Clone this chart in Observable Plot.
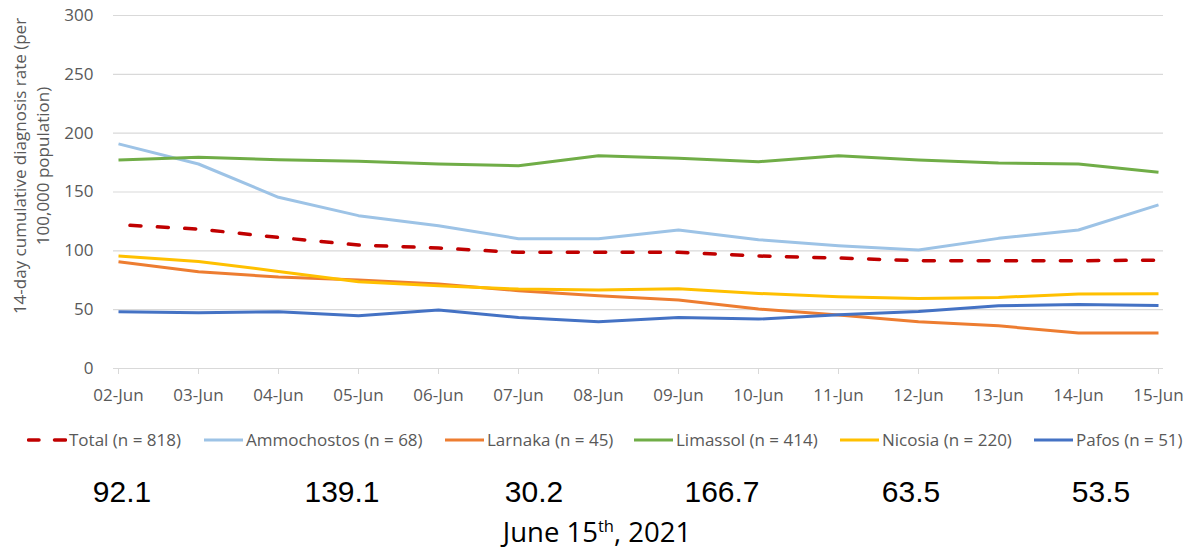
<!DOCTYPE html>
<html>
<head>
<meta charset="utf-8">
<script src="https://cdn.jsdelivr.net/npm/d3@7"></script>
<script src="https://cdn.jsdelivr.net/npm/@observablehq/plot@0.6"></script>
<style>
  body { margin: 0; background: #fff; }
  #wrap { position: relative; width: 1199px; height: 552px; overflow: hidden; font-family: "Open Sans", sans-serif; background: #fff; }
  #chart { position: absolute; left: 0; top: 0; }
  .leg { position: absolute; top: 431px; height: 17px; line-height: 17px; font-size: 17px; color: #595959; white-space: nowrap; display: flex; align-items: center; }
  .leg svg { display: block; margin-right: 2px; }
  .num { position: absolute; top: 477px; line-height: 30px; font-family: "Liberation Sans", Arial, sans-serif; font-size: 30px; color: #000; transform: translateX(-50%); white-space: nowrap; }
  .date { position: absolute; top: 518px; left: 597px; transform: translateX(-50%); font-size: 27.5px; line-height: 27px; color: #000; white-space: nowrap; }
  .date sup { font-size: 60%; line-height: 0; }
</style>
</head>
<body>
<div id="wrap">
  <div id="chart"></div>
</div>
<script>
// ---- data ----
const dates = ["02-Jun","03-Jun","04-Jun","05-Jun","06-Jun","07-Jun","08-Jun","09-Jun","10-Jun","11-Jun","12-Jun","13-Jun","14-Jun","15-Jun"];
const total       = [122.2,118.5,111.4,104.9,102.4,98.7,98.7,98.7,95.6,93.9,91.6,91.6,91.6,92.1];
const ammochostos = [190.9,173.8,145.5,129.9,121.4,110.3,110.3,117.7,109.5,104.4,100.7,110.6,117.7,139.1];
const larnaka     = [90.8,82.2,77.7,75.2,71.8,66.1,61.8,58.2,50.5,45.4,39.7,36.3,30.1,30.2];
const limassol    = [177.2,179.5,177.5,176.1,173.8,172.4,180.9,178.6,175.8,180.9,177.2,174.7,173.8,166.7];
const nicosia     = [95.6,91.0,82.5,73.7,70.3,67.5,66.7,67.8,63.8,61.0,59.5,60.4,63.3,63.5];
const pafos       = [48.2,47.4,48.2,44.8,49.7,43.4,39.7,43.4,42.0,45.7,48.5,53.3,54.4,53.5];
const seriesNames = ["Total (n = 818)","Ammochostos (n = 68)","Larnaka (n = 45)","Limassol (n = 414)","Nicosia (n = 220)","Pafos (n = 51)"];
const yTicks = [0,50,100,150,200,250,300];
const summaryValues = ["92.1","139.1","30.2","166.7","63.5","53.5"];
const yLabelLines = ["14-day cumulative diagnosis rate (per","100,000 population)"];

// ---- styles / layout ----
const seriesValues = [total, ammochostos, larnaka, limassol, nicosia, pafos];
const seriesColors = ["#C00000","#9DC3E6","#ED7D31","#70AD47","#FFC000","#4472C4"];
const legendSwatchX = [27,204,445,634,840,1034];
const summaryX = [122,342,534,722,911,1101];

const series = seriesNames.map((name, i) => ({
  name, color: seriesColors[i],
  rows: dates.map((d, j) => ({date: d, value: seriesValues[i][j]}))
}));

const lineMarks = series.map((s, i) => Plot.line(s.rows, {
  x: "date", y: "value", stroke: s.color,
  strokeWidth: i === 0 ? 3.5 : 3,
  strokeLinejoin: "round",
  strokeLinecap: i === 0 ? "round" : "butt",
  strokeDasharray: i === 0 ? "11,16.4" : null,
  strokeDashoffset: i === 0 ? 15.9 : null
}));

const chart = Plot.plot({
  width: 1199,
  height: 410,
  marginLeft: 113,
  marginRight: 36,
  marginTop: 15,
  marginBottom: 42,
  style: {fontFamily: "Open Sans, sans-serif", fontSize: "17px", color: "#595959", background: "transparent"},
  x: {type: "point", domain: dates, padding: 0},
  y: {domain: [0, 300], ticks: yTicks},
  marks: [
    Plot.gridY(yTicks, {stroke: "#d9d9d9", strokeOpacity: 1, strokeWidth: 1.2}),
    Plot.axisY(yTicks, {tickSize: 0, tickPadding: 20, fontSize: 17, fill: "#595959", label: null}),
    Plot.axisX({tickSize: 6, tickPadding: 14, stroke: "#d9d9d9", strokeOpacity: 1, fill: "#595959", fontSize: 17, label: null}),
    ...lineMarks
  ]
});
document.getElementById("chart").appendChild(chart);

// y-axis title (two lines, rotated)
const svg = d3.select(chart);
const yt = svg.append("text")
  .attr("transform", "translate(20,166) rotate(-90)")
  .attr("text-anchor", "middle")
  .attr("fill", "#595959")
  .style("font-family", "Open Sans, sans-serif")
  .style("font-size", "17px");
yLabelLines.forEach((t, i) => {
  yt.append("tspan").attr("x", 0).attr("y", i * 23).attr("dy", "0.35em").text(t);
});

// legend
const wrap = document.getElementById("wrap");
series.forEach((s, i) => {
  const item = document.createElement("div");
  item.className = "leg";
  item.style.left = legendSwatchX[i] + "px";
  const sw = d3.create("svg").attr("width", 40).attr("height", 8);
  if (i === 0) {
    sw.append("line").attr("x1", 1.5).attr("x2", 12).attr("y1", 4).attr("y2", 4)
      .attr("stroke", s.color).attr("stroke-width", 3.5).attr("stroke-linecap", "round");
    sw.append("line").attr("x1", 27.5).attr("x2", 38.5).attr("y1", 4).attr("y2", 4)
      .attr("stroke", s.color).attr("stroke-width", 3.5).attr("stroke-linecap", "round");
  } else {
    sw.append("line").attr("x1", 0).attr("x2", 39).attr("y1", 4).attr("y2", 4)
      .attr("stroke", s.color).attr("stroke-width", 3);
  }
  item.appendChild(sw.node());
  const label = document.createElement("span");
  label.textContent = s.name;
  item.appendChild(label);
  wrap.appendChild(item);
});

// summary values
summaryValues.forEach((v, i) => {
  const d = document.createElement("div");
  d.className = "num";
  d.style.left = summaryX[i] + "px";
  d.textContent = v;
  wrap.appendChild(d);
});

const dt = document.createElement("div");
dt.className = "date";
dt.innerHTML = "June 15<sup>th</sup>, 2021";
wrap.appendChild(dt);
</script>
</body>
</html>
